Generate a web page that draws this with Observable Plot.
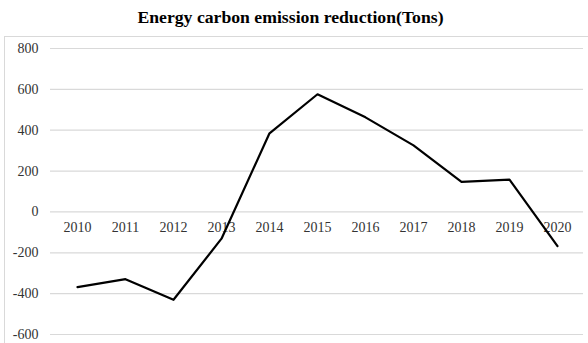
<!DOCTYPE html>
<html>
<head>
<meta charset="utf-8">
<script src="https://cdn.jsdelivr.net/npm/d3@7"></script>
<script src="https://cdn.jsdelivr.net/npm/@observablehq/plot@0.6"></script>
<style>
  html, body { margin: 0; padding: 0; background: #fff; }
  #wrap { position: relative; width: 588px; height: 343px; overflow: hidden; }
  #border { position: absolute; left: 4px; top: 36px; width: 700px; height: 500px; border: 1px solid #d9d9d9; box-sizing: border-box; }
  #title { position: relative; height: 36px; width: 581px; text-align: center; font: bold 17.7px "Liberation Serif", "Times New Roman", serif; line-height: 17.7px; padding-top: 8.5px; box-sizing: border-box; color: #000; }
  #chart { position: relative; }
  #chart svg { display: block; }
</style>
</head>
<body>
<div id="wrap">
  <div id="border"></div>
  <div id="title">Energy carbon emission reduction(Tons)</div>
  <div id="chart"></div>
</div>
<script>
const years = ["2010","2011","2012","2013","2014","2015","2016","2017","2018","2019","2020"];
const reduction = [-368, -329, -430, -131, 385, 576, 463, 326, 147, 158, -167];
const yTicks = [-600, -400, -200, 0, 200, 400, 600, 800];

const data = years.map((y, i) => ({year: y, value: reduction[i]}));
const serif = '"Liberation Serif", "Times New Roman", serif';

const chart = Plot.plot({
  width: 588,
  height: 307,
  marginLeft: 50,
  marginRight: 5,
  marginTop: 12,
  marginBottom: 9,
  style: {fontFamily: serif, fontSize: "14px", color: "#333", background: "transparent"},
  x: {type: "point", domain: years, padding: 0.5, axis: null},
  y: {domain: [-600, 800], axis: null},
  marks: [
    Plot.gridY(yTicks, {stroke: "#d9d9d9", strokeOpacity: 1, strokeWidth: 1.2}),
    Plot.axisY(yTicks, {tickSize: 0, tickPadding: 12, label: null, fontSize: 14, fontFamily: serif, fill: "#333", tickFormat: d => d < 0 ? "-" + Math.abs(d) : String(d)}),
    Plot.text(data, {x: "year", y: () => 0, text: "year", dy: 16, fill: "#333", fontSize: 14, fontFamily: serif}),
    Plot.line(data, {x: "year", y: "value", stroke: "#000", strokeWidth: 2.2})
  ]
});
document.getElementById("chart").appendChild(chart);
</script>
</body>
</html>
